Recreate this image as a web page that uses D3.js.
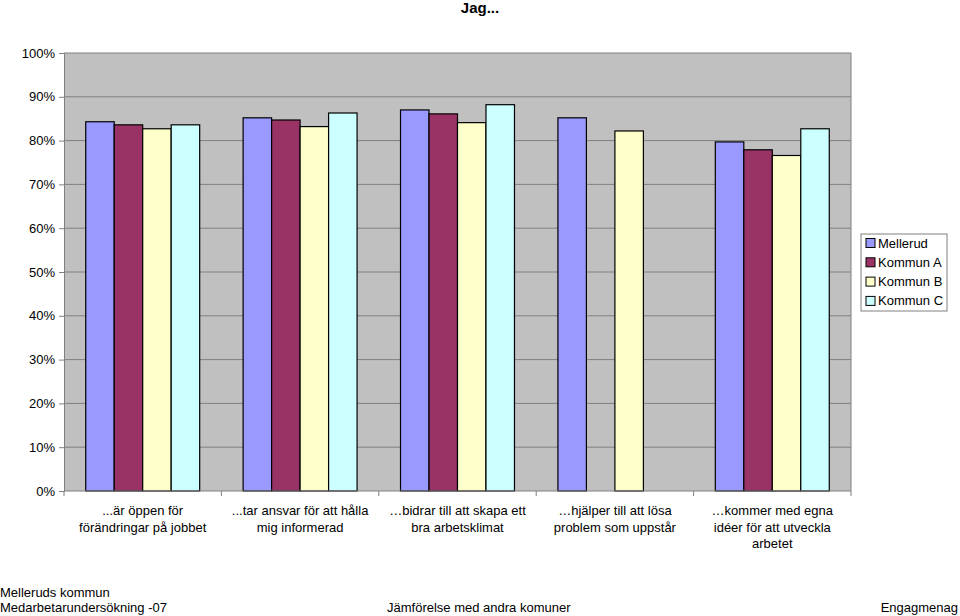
<!DOCTYPE html>
<html><head><meta charset="utf-8">
<script src="https://cdn.jsdelivr.net/npm/d3@7"></script>
<style>body{margin:0;background:#fff;}svg{display:block;font-family:"Liberation Sans",Arial,sans-serif;}</style>
</head><body>
<svg id="c" width="960" height="616"></svg>
<script>
const categories = [
  ["...är öppen för", "förändringar på jobbet"],
  ["...tar ansvar för att hålla", "mig informerad"],
  ["…bidrar till att skapa ett", "bra arbetsklimat"],
  ["…hjälper till att lösa", "problem som uppstår"],
  ["…kommer med egna", "idéer för att utveckla", "arbetet"]
];
const seriesNames = ["Mellerud", "Kommun A", "Kommun B", "Kommun C"];
const colors = ["#9999FF", "#993366", "#FFFFCC", "#CCFFFF"];
const mellerud = [84.3, 85.2, 87.0, 85.2, 79.7];
const kommunA  = [83.6, 84.7, 86.1, null, 77.9];
const kommunB  = [82.7, 83.2, 84.1, 82.2, 76.6];
const kommunC  = [83.6, 86.3, 88.2, null, 82.7];
const yTicks = [0,10,20,30,40,50,60,70,80,90,100];
const seriesValues = [mellerud, kommunA, kommunB, kommunC];

const svg = d3.select("#c");
const L = 64, R = 851, T = 53, B = 491;
const x0 = d3.scaleBand().domain(d3.range(categories.length)).range([L, R]).paddingInner(0.276).paddingOuter(0.138);
const x1 = d3.scaleBand().domain(d3.range(seriesNames.length)).range([0, x0.bandwidth()]);
const y = d3.scaleLinear().domain([0, 100]).range([B, T]);

svg.append("rect").attr("x", L).attr("y", T).attr("width", R - L).attr("height", B - T).attr("fill", "#C0C0C0");

// gridlines
svg.append("g").selectAll("line").data(yTicks.filter(d => d > 0)).join("line")
  .attr("x1", L).attr("x2", R).attr("y1", d => y(d)).attr("y2", d => y(d))
  .attr("stroke", "#808080").attr("stroke-width", 1);
// right border
svg.append("line").attr("x1", R).attr("x2", R).attr("y1", T).attr("y2", B).attr("stroke", "#808080");

// bars
const g = svg.append("g");
categories.forEach((c, i) => {
  seriesValues.forEach((vals, s) => {
    const v = vals[i];
    if (v == null) return;
    g.append("rect")
      .attr("x", x0(i) + x1(s))
      .attr("y", y(v))
      .attr("width", x1.bandwidth())
      .attr("height", y(0) - y(v))
      .attr("fill", colors[s]).attr("stroke", "#000").attr("stroke-width", 1.2);
  });
});

// y axis
const yAxis = d3.axisLeft(y).tickValues(yTicks).tickFormat(d => d + "%").tickSize(5).tickPadding(4);
const ya = svg.append("g").attr("transform", `translate(${L},0)`).call(yAxis);
ya.select(".domain").attr("stroke", "#808080");
ya.selectAll(".tick line").attr("stroke", "#808080");
ya.selectAll("text").attr("font-size", 13).attr("fill", "#000").attr("font-family", "Liberation Sans, Arial, sans-serif");

// x axis
const xa = svg.append("g").attr("transform", `translate(0,${B})`);
xa.append("line").attr("x1", L).attr("x2", R).attr("stroke", "#808080");
const step = x0.step();
d3.range(categories.length + 1).forEach(i => {
  const xx = L + i * step;
  xa.append("line").attr("x1", xx).attr("x2", xx).attr("y1", 0).attr("y2", 5).attr("stroke", "#808080");
});
categories.forEach((lines, i) => {
  const cx = x0(i) + x0.bandwidth() / 2;
  const t = svg.append("text").attr("text-anchor", "middle").attr("font-size", 13).attr("fill", "#000");
  lines.forEach((ln, k) => t.append("tspan").attr("x", cx).attr("y", 515 + k * 16.5).text(ln));
});

// title
svg.append("text").attr("x", 480).attr("y", 13).attr("text-anchor", "middle")
  .attr("font-size", 15).attr("font-weight", "bold").text("Jag...");

// legend
const lg = svg.append("g");
lg.append("rect").attr("x", 861).attr("y", 234).attr("width", 86).attr("height", 77)
  .attr("fill", "#fff").attr("stroke", "#808080");
seriesNames.forEach((n, s) => {
  const yy = 243 + s * 19.3;
  lg.append("rect").attr("x", 866).attr("y", yy - 4.5).attr("width", 9).attr("height", 9)
    .attr("fill", colors[s]).attr("stroke", "#000");
  lg.append("text").attr("x", 878).attr("y", yy + 4.5).attr("font-size", 13).text(n);
});

// footer
svg.append("text").attr("x", 0).attr("y", 597).attr("font-size", 13).text("Melleruds kommun");
svg.append("text").attr("x", 0).attr("y", 612).attr("font-size", 13).text("Medarbetarundersökning -07");
svg.append("text").attr("x", 387).attr("y", 612).attr("font-size", 13).text("Jämförelse med andra komuner");
svg.append("text").attr("x", 958).attr("y", 612).attr("text-anchor", "end").attr("font-size", 13).text("Engagmenag");
</script>
</body></html>
